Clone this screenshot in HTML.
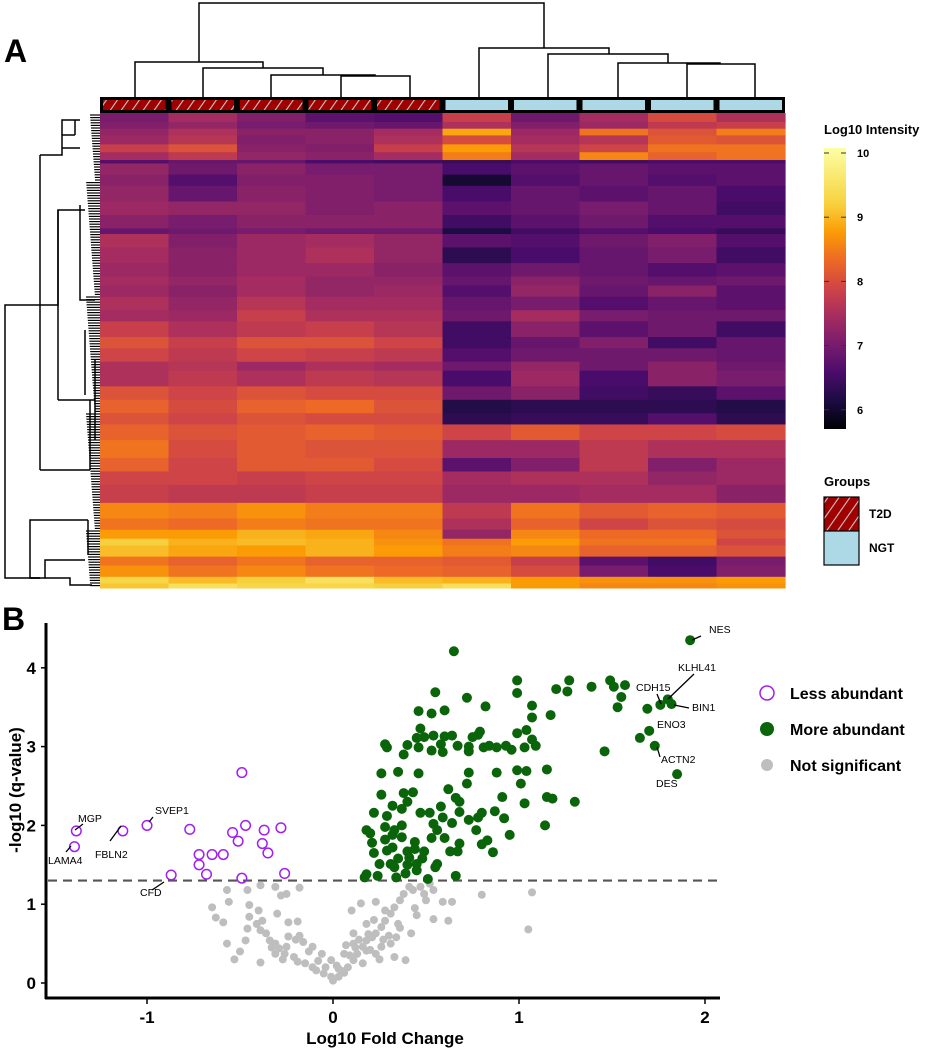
<!DOCTYPE html>
<html><head><meta charset="utf-8"><style>
html,body{margin:0;padding:0;background:#fff}
svg{display:block;font-family:"Liberation Sans",Arial,sans-serif}
</style></head><body>
<svg id="fig" width="941" height="1050" viewBox="0 0 941 1050" xmlns="http://www.w3.org/2000/svg">
<defs>
<pattern id="hatch" patternUnits="userSpaceOnUse" width="9" height="9" patternTransform="rotate(35)">
<rect width="9" height="9" fill="#a00000"/><line x1="0" y1="0" x2="0" y2="9" stroke="#c8c8c8" stroke-width="2.2"/>
</pattern>
<linearGradient id="inferno" x1="0" y1="1" x2="0" y2="0">
<stop offset="0" stop-color="#000004"/><stop offset="0.1" stop-color="#1b0c41"/><stop offset="0.2" stop-color="#4a0c6b"/>
<stop offset="0.3" stop-color="#781c6d"/><stop offset="0.4" stop-color="#a52c60"/><stop offset="0.5" stop-color="#cf4446"/>
<stop offset="0.6" stop-color="#ed6925"/><stop offset="0.7" stop-color="#fb9b06"/><stop offset="0.8" stop-color="#f7d13d"/>
<stop offset="1" stop-color="#fcffa4"/>
</linearGradient>
</defs>
<text x="4" y="62" font-size="32" font-weight="bold">A</text>
<text x="2" y="630" font-size="32" font-weight="bold">B</text>
<g id="heat"></g>
<g id="dendro" fill="none" stroke="#000" stroke-width="1.5"></g>
<g>
<text x="824" y="134" font-size="13" font-weight="bold">Log10 Intensity</text>
<rect x="824" y="148" width="22" height="281" fill="url(#inferno)"/>
<g id="cbticks"></g>
</g>
<g>
<text x="824" y="486" font-size="13" font-weight="bold">Groups</text>
<rect x="824" y="497" width="35" height="34" fill="url(#hatch)" stroke="#000" stroke-width="1.2"/>
<rect x="824" y="531" width="35" height="34" fill="#add8e6" stroke="#000" stroke-width="1.2"/>
<text x="869" y="518" font-size="12" font-weight="bold">T2D</text>
<text x="869" y="552" font-size="12" font-weight="bold">NGT</text>
</g>
<g id="volcano"></g>
<g>
<circle cx="767" cy="693" r="7" fill="none" stroke="#a020f0" stroke-width="1.5"/>
<text x="790" y="699" font-size="16" font-weight="bold">Less abundant</text>
<circle cx="767" cy="729" r="7" fill="#0a640a"/>
<text x="790" y="735" font-size="16" font-weight="bold">More abundant</text>
<circle cx="767" cy="765" r="6" fill="#bebebe"/>
<text x="790" y="771" font-size="16" font-weight="bold">Not significant</text>
</g>
</svg>
<script>
const NS="http://www.w3.org/2000/svg";
function mk(tag,attrs,parent){const e=document.createElementNS(NS,tag);for(const k in attrs)e.setAttribute(k,attrs[k]);parent.appendChild(e);return e;}

// ---------- Heatmap data ----------
const sampleGroups=["T2D","T2D","T2D","T2D","T2D","NGT","NGT","NGT","NGT","NGT"];
const bandHeights=[8,6,6,8,7,7,3,10,10,14,12,12,5,12,14,12,8,10,12,10,14,10,12,8,14,12,12,10,14,16,12,12,16,14,10,8,6,10,8,10,6,4];
const bandValues=[
[7.0,7.5,7.1,6.7,6.6,7.9,6.9,7.5,8.1,7.6],
[7.1,7.3,7.0,6.9,6.8,7.6,7.1,7.4,7.8,7.9],
[7.3,7.6,7.2,7.2,7.5,9.1,7.4,8.6,8.2,8.7],
[7.4,7.7,7.1,7.2,7.6,8.1,7.5,7.7,8.3,8.2],
[7.9,8.2,7.2,7.1,7.9,9.0,7.7,8.0,8.6,8.6],
[7.5,7.8,7.3,7.2,7.5,8.7,7.5,8.8,8.4,8.6],
[6.6,6.8,6.8,6.5,6.4,6.3,6.5,6.4,6.5,6.5],
[7.3,6.9,7.2,7.0,7.0,6.5,6.7,6.8,6.7,6.7],
[7.2,6.6,7.1,7.1,7.0,5.9,6.6,6.8,6.6,6.7],
[7.3,6.8,7.2,7.1,7.0,6.5,6.8,6.7,6.8,6.5],
[7.4,7.3,7.3,7.1,7.2,6.7,6.8,7.0,6.8,6.4],
[7.2,7.0,7.2,7.2,7.2,6.4,6.7,6.9,6.6,6.6],
[6.8,6.9,7.0,6.9,6.9,6.0,6.4,6.6,6.5,6.3],
[7.6,7.1,7.4,7.5,7.3,6.7,6.6,6.9,7.1,6.6],
[7.5,7.2,7.4,7.6,7.3,6.2,6.5,6.8,7.0,6.4],
[7.4,7.2,7.4,7.4,7.2,6.7,6.9,6.8,6.6,6.7],
[7.5,7.3,7.5,7.3,7.3,6.8,7.2,6.9,6.8,6.9],
[7.4,7.2,7.5,7.3,7.4,6.6,7.3,6.8,7.2,6.7],
[7.6,7.3,7.7,7.5,7.5,6.8,7.0,6.6,6.8,6.7],
[7.5,7.4,7.9,7.6,7.6,6.9,7.5,7.0,6.9,6.9],
[7.9,7.6,7.8,7.9,7.7,6.4,7.2,6.7,6.9,6.4],
[8.2,7.9,8.2,8.2,8.0,6.4,6.8,7.1,6.4,6.8],
[8.0,7.8,8.0,7.9,7.8,6.6,6.9,6.9,6.9,6.8],
[7.6,7.7,7.4,7.6,7.5,6.9,7.3,6.9,7.2,6.9],
[7.6,7.8,7.6,7.8,7.7,6.5,7.4,6.5,7.2,7.0],
[8.2,8.0,8.2,8.1,8.1,6.9,7.2,6.4,6.3,6.7],
[8.4,8.1,8.4,8.5,8.2,6.1,6.2,6.2,6.2,6.1],
[8.2,8.0,8.2,8.1,8.1,6.2,6.3,6.3,6.6,6.2],
[8.4,8.2,8.3,8.4,8.3,8.0,8.3,8.0,8.0,8.1],
[8.6,8.1,8.3,8.2,8.2,7.4,7.4,7.8,7.6,7.6],
[8.4,8.0,8.3,8.3,8.1,6.7,7.1,7.8,7.1,7.4],
[8.0,8.0,7.9,8.0,8.0,7.5,7.6,7.6,7.3,7.4],
[7.9,7.8,7.8,7.9,7.9,7.4,7.4,7.5,7.5,7.2],
[8.8,8.7,8.9,8.7,8.7,7.8,8.6,8.3,8.4,8.3],
[8.6,8.5,8.7,8.6,8.6,7.6,8.4,8.0,8.2,8.1],
[9.0,9.0,9.2,9.1,8.8,7.3,8.8,8.5,8.5,8.2],
[9.5,9.2,9.3,9.2,8.9,8.6,9.0,8.6,8.6,8.0],
[9.3,9.1,9.0,9.2,9.0,8.7,8.8,8.4,8.4,8.2],
[8.6,8.4,8.6,8.4,8.4,8.3,7.9,6.7,6.4,7.0],
[8.9,8.6,8.8,8.6,8.5,8.4,8.1,7.0,6.5,7.1],
[9.6,9.3,9.5,9.8,9.3,9.2,9.0,8.9,8.9,9.0],
[9.4,9.8,9.6,9.6,9.5,9.8,9.0,8.8,8.8,8.9]];
const cbTicks=[6,7,8,9,10];

const stops=[[0,0,0,4],[0.1,27,12,65],[0.2,74,12,107],[0.3,120,28,109],[0.4,165,44,96],[0.5,207,68,70],[0.6,237,105,37],[0.7,251,155,6],[0.8,247,209,61],[1,252,255,164]];
function inferno(v){let t=(v-5.5)/5;t=Math.max(0,Math.min(1,t));
 for(let i=1;i<stops.length;i++){if(t<=stops[i][0]){const a=stops[i-1],b=stops[i],f=(t-a[0])/(b[0]-a[0]);
 return `rgb(${[1,2,3].map(j=>Math.round(a[j]+(b[j]-a[j])*f)).join(',')})`;}}return "rgb(252,255,164)";}
const HX=100,HW=685,HY=113,HH=475;
const totalH=bandHeights.reduce((a,b)=>a+b,0);
const hk=HH/totalH;
const colW=HW/sampleGroups.length;
const heat=document.getElementById('heat');
let yy=HY;
bandValues.forEach((row,bi)=>{const h=bandHeights[bi]*hk;row.forEach((v,ci)=>{
 const r=mk('rect',{x:(HX+ci*colW).toFixed(2),y:yy.toFixed(2),width:(colW+0.6).toFixed(2),height:(h+0.5).toFixed(2),fill:inferno(v)},heat);
 
 
});yy+=h;});
const ann=mk('rect',{x:HX,y:97,width:HW,height:16,fill:'#000'},heat);


sampleGroups.forEach((g,i)=>{
 const r=mk('rect',{x:(HX+i*colW+3).toFixed(2),y:100,width:(colW-6).toFixed(2),height:10,fill:g==="T2D"?"url(#hatch)":"#add8e6"},heat);
 
 
});
const cbt=document.getElementById('cbticks');
const cbY=v=>153+(10-v)*64.2;
cbTicks.forEach(v=>{
 mk('line',{x1:824,x2:829,y1:cbY(v),y2:cbY(v),stroke:'#333','stroke-width':1},cbt);
 mk('line',{x1:841,x2:846,y1:cbY(v),y2:cbY(v),stroke:'#333','stroke-width':1},cbt);
 const t=mk('text',{x:857,y:cbY(v)+4,'font-size':11,'font-weight':'bold'},cbt);t.textContent=v;
 
 
});

// ---------- Dendrograms ----------
const dg=document.getElementById('dendro');
const colPaths=["M135 97V62H263V68","M203 97V68H323V75","M271 97V75H375V76","M341 97V76H410V97","M199 62V3H544V48",
"M479 97V48H609V54","M548 97V54H668V63","M618 97V63H720V64","M687 97V64H755V97"];
colPaths.forEach(d=>mk('path',{d:d},dg));
const rowPaths=["M40 305H5V578H40","M40 155V470","M40 155H62V135H75","M62 135V120H80","M62 148H80","M40 470H90","M40 305H58V210H85","M58 400H95","M58 400V210",
"M90 470V400","M40 578H30V520H88","M30 578H45V560H85","M45 578H70V585H92","M75 120V135","M80 205V300H95","M85 330V395","M88 520V555","M95 360V440"];
rowPaths.forEach(d=>mk('path',{d:d},dg));
for(let y=115;y<588;y+=2.6){mk('line',{x1:86+((y*7)%9),x2:100,y1:y.toFixed(1),y2:y.toFixed(1),'stroke-width':1.2},dg);}

// ---------- Volcano data ----------
const lessX=[-1.38,-1.39,-1.13,-1.0,-0.87,-0.77,-0.72,-0.72,-0.68,-0.65,-0.59,-0.54,-0.51,-0.49,-0.47,-0.49,-0.38,-0.37,-0.35,-0.28,-0.26];
const lessY=[1.93,1.73,1.93,2.0,1.37,1.95,1.63,1.5,1.38,1.63,1.63,1.91,1.80,2.67,2.0,1.33,1.77,1.94,1.65,1.97,1.39];
const moreX=[1.92,1.80,1.82,1.76,1.70,1.73,1.85,1.49,1.51,1.57,1.39,1.27,1.26,1.20,1.55,1.53,1.69,1.65,1.46,1.30,
0.65,0.99,0.99,0.55,0.72,0.82,1.07,1.07,1.17,0.46,0.53,0.60,0.47,0.99,1.04,1.07,1.09,1.03,0.99,1.04,1.01,1.15,1.03,1.15,1.18,1.14,
0.28,0.29,0.40,0.38,0.45,0.46,0.49,0.53,0.54,0.58,0.59,0.60,0.64,0.67,0.73,0.75,0.79,0.81,0.84,0.88,0.93,0.96,0.73,0.78,
0.26,0.35,0.46,0.73,0.88,0.72,0.62,0.26,0.38,0.43,0.40,0.32,0.58,0.66,0.68,0.91,0.22,0.29,0.37,0.47,0.52,0.59,0.68,0.80,0.87,0.78,0.73,0.92,
0.18,0.20,0.28,0.33,0.37,0.54,0.56,0.64,0.77,0.95,0.21,0.28,0.32,0.37,0.44,0.53,0.60,0.68,0.80,0.83,0.22,0.29,0.32,0.40,0.44,0.49,0.63,0.67,0.86,
0.25,0.31,0.35,0.40,0.45,0.56,0.33,0.18,0.24,0.17,0.34,0.39,0.45,0.51,0.66,0.55,0.41,0.48];
const moreY=[4.35,3.6,3.54,3.53,3.2,3.01,2.65,3.84,3.76,3.78,3.76,3.84,3.70,3.73,3.63,3.5,3.48,3.11,2.94,2.30,
4.21,3.84,3.68,3.69,3.62,3.51,3.52,3.37,3.4,3.45,3.42,3.46,3.23,3.17,3.21,3.09,3.01,2.99,2.70,2.69,2.53,2.71,2.28,2.36,2.34,2.0,
3.03,2.99,3.02,2.9,3.11,2.99,3.12,2.95,3.14,3.03,2.93,3.13,3.14,3.01,3.0,3.12,3.19,2.99,3.01,2.99,3.01,2.96,2.94,3.15,
2.66,2.68,2.66,2.67,2.67,2.53,2.46,2.39,2.41,2.42,2.30,2.25,2.24,2.35,2.30,2.36,2.16,2.12,2.21,2.16,2.16,2.1,2.17,2.16,2.18,2.1,2.07,2.09,
1.94,1.9,1.98,1.94,2.0,2.02,1.94,2.03,1.94,1.88,1.78,1.82,1.88,1.85,1.79,1.84,1.84,1.77,1.76,1.81,1.65,1.68,1.72,1.67,1.7,1.67,1.67,1.67,1.66,
1.51,1.51,1.58,1.5,1.51,1.51,1.47,1.38,1.36,1.34,1.34,1.39,1.43,1.32,1.36,1.47,1.59,1.58];
const nsX=[0,-0.01,0.03,0.06,-0.05,-0.09,-0.11,-0.15,-0.19,-0.21,-0.26,-0.29,-0.31,-0.34,-0.36,-0.39,-0.41,-0.45,-0.47,-0.46,-0.39,-0.57,-0.59,-0.63,-0.65,-0.56,-0.57,-0.45,-0.4,-0.38,-0.3,-0.24,-0.19,-0.18,-0.25,-0.28,-0.18,-0.39,-0.31,-0.46,
0.08,0.11,0.13,0.16,0.18,0.21,0.23,0.26,0.28,0.31,0.33,0.36,0.38,0.41,0.43,0.47,0.49,0.52,0.54,0.45,0.42,0.39,0.33,0.26,0.18,0.1,0.15,0.23,0.28,0.18,0.11,0.06,-0.04,0.54,0.62,0.64,0.59,0.8,1.07,1.05,0.11,0.23,0.31,0.34,0.16,-0.06,-0.11,-0.01,0.03,-0.16,-0.24,-0.25,-0.31,
0.05,0.09,0.14,0.2,0.25,0.3,0.35,0.12,0.22,0.02,-0.08,-0.13,-0.2,-0.27,-0.33,-0.5,-0.53,0.44,0.5,0.36,0.27,0.19,0.07];
const nsY=[0.03,0.08,0.08,0.13,0.12,0.16,0.2,0.25,0.27,0.33,0.37,0.44,0.5,0.54,0.63,0.67,0.75,0.84,0.54,0.69,0.26,0.5,0.77,0.83,0.96,1.03,1.18,0.99,0.92,0.79,0.88,0.77,0.78,0.6,1.13,1.11,1.21,1.24,1.22,1.18,
0.2,0.29,0.37,0.46,0.54,0.58,0.63,0.71,0.79,0.88,0.96,1.05,1.13,1.22,1.18,1.22,1.13,1.26,1.18,0.86,0.63,0.29,0.33,0.46,0.41,0.92,1.01,1.03,0.92,0.75,0.63,0.37,0.2,0.81,0.79,1.03,1.03,1.12,1.15,0.68,0.5,0.37,0.5,0.58,0.25,0.37,0.46,0.29,0.18,0.52,0.59,0.46,0.37,
0.15,0.35,0.55,0.42,0.3,0.6,0.75,0.45,0.8,0.22,0.28,0.4,0.55,0.3,0.45,0.4,0.3,0.95,1.05,0.7,0.55,0.62,0.48];
const labelNames=["NES","KLHL41","CDH15","BIN1","ENO3","ACTN2","DES","MGP","LAMA4","FBLN2","SVEP1","CFD"];
const xTicks=[-1,0,1,2];
const yTicks=[0,1,2,3,4];
const qThreshold=1.3;

const X0=333,XS=186,Y0=983,YS=78.8;
const xS=v=>X0+v*XS, yS=v=>Y0-v*YS;
const vg=document.getElementById('volcano');
const th=mk('line',{x1:48,x2:720,y1:yS(qThreshold),y2:yS(qThreshold),stroke:'#555','stroke-width':2.2,'stroke-dasharray':'9,6'},vg);


nsX.forEach((x,i)=>{const c=mk('circle',{cx:xS(x),cy:yS(nsY[i]),r:4,fill:'#bebebe'},vg);
 
 });
moreX.forEach((x,i)=>{const c=mk('circle',{cx:xS(x),cy:yS(moreY[i]),r:5,fill:'#0a640a'},vg);
 
 });
lessX.forEach((x,i)=>{const c=mk('circle',{cx:xS(x),cy:yS(lessY[i]),r:4.8,fill:'none',stroke:'#a020f0','stroke-width':1.5},vg);
 
 });
mk('line',{x1:46,x2:46,y1:623,y2:999,stroke:'#000','stroke-width':3},vg);
mk('line',{x1:45,x2:720,y1:998,y2:998,stroke:'#000','stroke-width':3},vg);
yTicks.forEach(v=>{mk('line',{x1:41,x2:46,y1:yS(v),y2:yS(v),stroke:'#000','stroke-width':1.5},vg);
 const t=mk('text',{x:36,y:yS(v)+6,'font-size':17,'font-weight':'bold','text-anchor':'end'},vg);t.textContent=v;
 
 });
xTicks.forEach(v=>{mk('line',{x1:xS(v),x2:xS(v),y1:998,y2:1004,stroke:'#000','stroke-width':1.5},vg);
 const t=mk('text',{x:xS(v),y:1023,'font-size':17,'font-weight':'bold','text-anchor':'middle'},vg);t.textContent=v;
 
 });
const xt=mk('text',{x:385,y:1044,'font-size':17,'font-weight':'bold','text-anchor':'middle'},vg);xt.textContent="Log10 Fold Change";


const yt=mk('text',{x:0,y:0,'font-size':17,'font-weight':'bold','text-anchor':'middle',transform:'translate(21,790) rotate(-90)'},vg);yt.textContent="-log10 (q-value)";


const labelPos=[[709,633,692,640,701,636],[678,671,668,699,694,674],[636,691,657,694,661,704],[692,711,674,705,689,708],[657,728,0,0,0,0],[661,763,657,747,660,757],
[656,787,0,0,0,0],[78,822,75,830,83,824],[48,864,66,852,71,846],[95,858,110,841,121,826],[155,814,149,822,153,817],[140,896,152,890,164,882]];
labelNames.forEach((n,i)=>{const p=labelPos[i];
 if(p[2]){mk('line',{x1:p[2],y1:p[3],x2:p[4],y2:p[5],stroke:'#000','stroke-width':1.3},vg);}
 const t=mk('text',{x:p[0],y:p[1],'font-size':10.5},vg);t.textContent=n;
 
 });
</script>
</body></html>
